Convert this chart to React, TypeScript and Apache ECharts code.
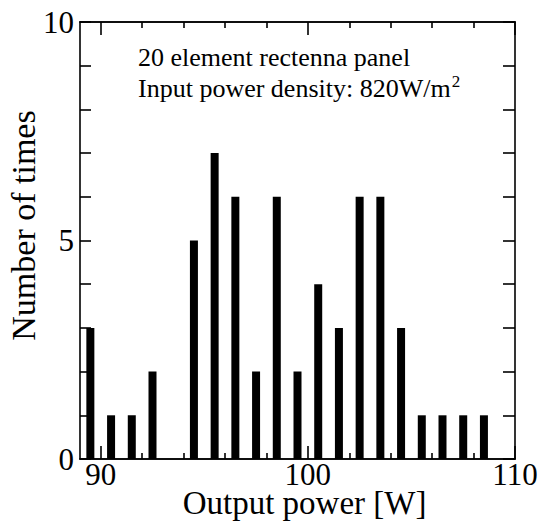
import React, { useEffect, useRef } from "react";
import * as echarts from "echarts";

const binCenters = [89.5, 90.5, 91.5, 92.5, 94.5, 95.5, 96.5, 97.5, 98.5, 99.5, 100.5, 101.5, 102.5, 103.5, 104.5, 105.5, 106.5, 107.5, 108.5];
const counts = [3, 1, 1, 2, 5, 7, 6, 2, 6, 2, 4, 3, 6, 6, 3, 1, 1, 1, 1];
const xLabelValues = [90, 100, 110];
const xMinorTicks = [92, 94, 96, 98, 102, 104, 106, 108];
const titleLine1 = "20 element rectenna panel";
const titleLine2 = "Input power density: 820W/m";

const FONT = "'Liberation Serif', 'Times New Roman', serif";

export default function App() {
  const ref = useRef<HTMLDivElement>(null);
  useEffect(() => {
    if (!ref.current) return;
    const chart = echarts.init(ref.current, undefined, { renderer: "svg" });
    const lineStyle = { color: "#000", width: 1.6 };
    const baseX = {
      type: "value" as const,
      min: 89,
      max: 110,
      splitLine: { show: false },
      axisLine: { show: true, lineStyle },
    };
    chart.setOption({
      animation: false,
      backgroundColor: "#fff",
      textStyle: { fontFamily: FONT, color: "#000" },
      grid: { left: 80, top: 22, right: 27, bottom: 68, containLabel: false, outerBoundsMode: "none" },
      xAxis: [
        {
          ...baseX,
          position: "bottom",
          name: "Output power [W]",
          nameLocation: "middle",
          nameGap: 31,
          nameMoveOverlap: false,
          nameTextStyle: {
            fontFamily: FONT,
            fontSize: 33,
            lineHeight: 26,
            color: "#000",
            verticalAlign: "top",
            padding: [0, 0, 0, 14],
          },
          axisLabel: {
            customValues: xLabelValues,
            fontFamily: FONT,
            fontSize: 31,
            lineHeight: 24,
            color: "#000",
            margin: 3,
          },
          axisTick: { customValues: xLabelValues, inside: true, length: 13, lineStyle },
        },
        {
          ...baseX,
          position: "bottom",
          axisLabel: { show: false },
          axisTick: { customValues: xMinorTicks, inside: true, length: 6, lineStyle },
        },
        {
          ...baseX,
          position: "top",
          axisLabel: { show: false },
          axisTick: { customValues: xLabelValues, inside: true, length: 13, lineStyle },
        },
        {
          ...baseX,
          position: "top",
          axisLabel: { show: false },
          axisTick: { customValues: xMinorTicks, inside: true, length: 6, lineStyle },
        },
      ],
      yAxis: [
        {
          type: "value",
          min: 0,
          max: 10,
          interval: 1,
          position: "left",
          name: "Number of times",
          nameLocation: "middle",
          nameGap: 40,
          nameMoveOverlap: false,
          nameTextStyle: { fontFamily: FONT, fontSize: 34, color: "#000", padding: [0, 0, 0, 30] },
          splitLine: { show: false },
          axisLine: { show: true, lineStyle },
          axisTick: { inside: true, length: 11, lineStyle },
          axisLabel: {
            fontFamily: FONT,
            fontSize: 31,
            color: "#000",
            margin: 6,
            formatter: (v: number) => (v % 5 === 0 ? String(v) : ""),
          },
        },
        {
          type: "value",
          min: 0,
          max: 10,
          interval: 1,
          position: "right",
          splitLine: { show: false },
          axisLine: { show: true, lineStyle },
          axisTick: { inside: true, length: 12, lineStyle },
          axisLabel: { show: false },
        },
      ],
      series: [
        {
          type: "bar",
          xAxisIndex: 0,
          yAxisIndex: 0,
          barWidth: 8,
          itemStyle: { color: "#000" },
          data: binCenters.map((x, i) => [x, counts[i]]),
        },
      ],
      graphic: [
        {
          type: "text",
          left: 138,
          top: 44,
          style: {
            text: titleLine1,
            fontFamily: FONT,
            fontSize: 26,
            fill: "#000",
          },
        },
        {
          type: "text",
          left: 138,
          top: 73,
          style: {
            text: titleLine2 + "{sup|2}",
            fontFamily: FONT,
            fontSize: 26,
            fill: "#000",
            rich: {
              sup: { fontFamily: FONT, fontSize: 17, fill: "#000", padding: [0, 0, 14, 1] },
            },
          },
        },
      ],
    });
    return () => chart.dispose();
  }, []);
  return (
    <div
      ref={ref}
      style={{ position: "absolute", left: 0, top: 0, width: 542, height: 527 }}
    />
  );
}
